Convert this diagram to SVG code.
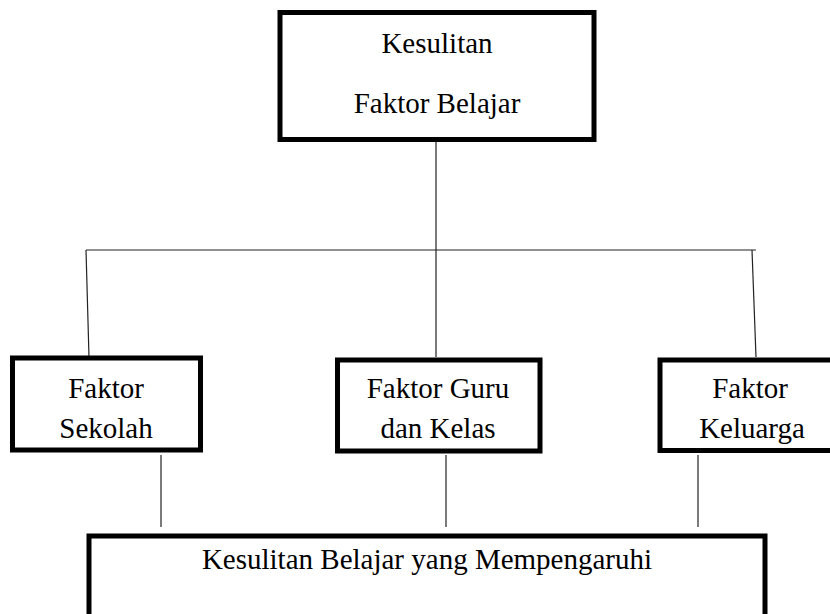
<svg xmlns="http://www.w3.org/2000/svg" width="830" height="614" viewBox="0 0 830 614">
<style>
.box{fill:#fff;stroke:#000;stroke-width:5}
.ln{stroke:#222;stroke-width:1.2;fill:none}
</style>
<rect width="830" height="614" fill="#fff"/>
<g id="connectors">
<line class="ln" x1="436" y1="142" x2="436" y2="357"/>
<line class="ln" x1="86" y1="250" x2="756" y2="250"/>
<line class="ln" x1="86" y1="250" x2="89" y2="357"/>
<line class="ln" x1="752" y1="250" x2="756" y2="357"/>
<line class="ln" x1="161" y1="455" x2="161" y2="527"/>
<line class="ln" x1="446" y1="455" x2="446" y2="527"/>
<line class="ln" x1="698" y1="455" x2="698" y2="527"/>
</g>
<g font-family="Liberation Serif, Times New Roman, DejaVu Serif, serif" font-size="29" fill="#000" text-anchor="middle">
<g id="top">
<rect class="box" x="280" y="12.5" width="314" height="127"/>
<text x="437" y="53">Kesulitan</text>
<text x="437" y="113">Faktor Belajar</text>
</g>
<g id="sekolah">
<rect class="box" x="12.5" y="358" width="188" height="92"/>
<text x="106" y="398">Faktor</text>
<text x="106" y="438">Sekolah</text>
</g>
<g id="guru">
<rect class="box" x="337.5" y="360" width="202.5" height="91"/>
<text x="438" y="398">Faktor Guru</text>
<text x="438" y="438">dan Kelas</text>
</g>
<g id="keluarga">
<rect class="box" x="660" y="360" width="180" height="90.5"/>
<text x="750" y="398">Faktor</text>
<text x="752" y="438">Keluarga</text>
</g>
<g id="bottom">
<rect class="box" x="89" y="536" width="676" height="100"/>
<text x="427" y="569">Kesulitan Belajar yang Mempengaruhi</text>
</g>
</g>
</svg>
